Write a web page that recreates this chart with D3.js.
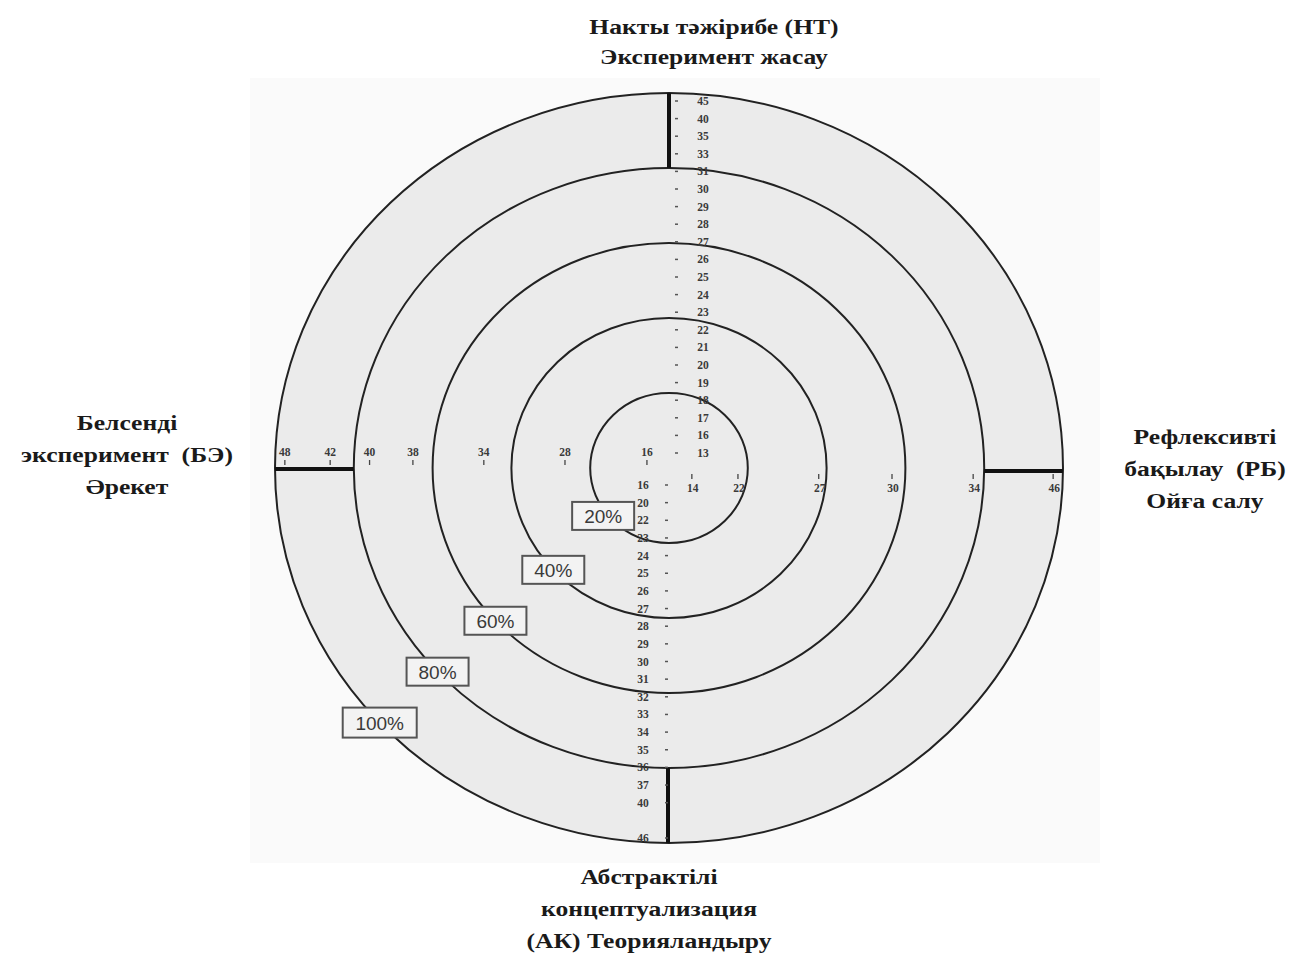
<!DOCTYPE html>
<html>
<head>
<meta charset="utf-8">
<script src="https://cdn.jsdelivr.net/npm/d3@7/dist/d3.min.js"></script>
<style>
  body { margin: 0; background: #fff; }
  .title { font-family: "Liberation Serif", serif; font-weight: bold; font-size: 20px; fill: #1a1a1a; }
  .num { font-family: "Liberation Serif", serif; font-weight: bold; font-size: 11.5px; fill: #3a3a3a; }
  .pct { font-family: "Liberation Sans", Arial, sans-serif; font-size: 19px; fill: #3a3a3a; }
</style>
</head>
<body>
<div id="chart"></div>
<script>
// rings in percent of the outer radius
var rings = [20, 40, 60, 80, 100];

// vertical axis, top half (НТ) - read top to bottom
var topLabels = ["45","40","35","33","31","30","29","28","27","26","25","24","23","22","21","20","19","18","17","16","13"];
// vertical axis, bottom half (АК) - read top to bottom, slot index for each
var bottomLabels = ["16","20","22","23","24","25","26","27","28","29","30","31","32","33","34","35","36","37","40","46"];
var bottomSlots  = [0,1,2,3,4,5,6,7,8,9,10,11,12,13,14,15,16,17,18,20];

// horizontal axis, left half (БЭ) and right half (РБ), with percentile of each score
var leftLabels  = ["48","42","40","38","34","28","16"];
var leftPct     = [97.5, 86, 76, 65, 47, 26.4, 5.6];
var rightLabels = ["14","22","27","30","34","46"];
var rightPct    = [5.8, 17.5, 38, 56.6, 77.2, 97.5];

var width = 1292, height = 957;
var cx = 669, cy = 468;

var svg = d3.select("#chart")
  .append("svg")
  .attr("width", width)
  .attr("height", height);

// radius scales (the scan is slightly wider than tall)
var rx = d3.scaleLinear().domain([0, 100]).range([0, 394]);
var ry = d3.scaleLinear().domain([0, 100]).range([0, 375]);

// faint scan paper behind the target
svg.append("rect")
  .attr("x", 250).attr("y", 78)
  .attr("width", 850).attr("height", 785)
  .attr("fill", "#fafafa");

svg.append("ellipse")
  .attr("cx", cx).attr("cy", cy)
  .attr("rx", rx(100)).attr("ry", ry(100))
  .attr("fill", "#ebebeb");

// rings
svg.selectAll("ellipse.ring")
  .data(rings)
  .enter()
  .append("ellipse")
  .attr("class", "ring")
  .attr("cx", cx).attr("cy", cy)
  .attr("rx", function(d) { return rx(d); })
  .attr("ry", function(d) { return ry(d); })
  .attr("fill", "none")
  .attr("stroke", "#222")
  .attr("stroke-width", 2);

// thick axis pieces between the two outer rings
var g = svg.append("g").attr("stroke", "#111").attr("stroke-width", 4);
g.append("line").attr("x1", cx).attr("x2", cx).attr("y1", cy - ry(100)).attr("y2", cy - ry(80));
g.append("line").attr("x1", cx - 1).attr("x2", cx - 1).attr("y1", cy + ry(80)).attr("y2", cy + ry(100));
g.append("line").attr("y1", cy + 1).attr("y2", cy + 1).attr("x1", cx - rx(100)).attr("x2", cx - rx(80));
g.append("line").attr("y1", cy + 3).attr("y2", cy + 3).attr("x1", cx + rx(80)).attr("x2", cx + rx(100));

// top half numbers
var yTop = d3.scalePoint().domain(topLabels).range([cy - 367, cy - 15]);
var topG = svg.append("g");
topG.selectAll("text")
  .data(topLabels)
  .enter()
  .append("text")
  .attr("class", "num")
  .attr("x", cx + 34)
  .attr("y", function(d) { return yTop(d) + 4; })
  .attr("text-anchor", "middle")
  .text(function(d) { return d; });
topG.selectAll("line")
  .data(topLabels)
  .enter()
  .append("line")
  .attr("x1", cx + 6).attr("x2", cx + 9)
  .attr("y1", function(d) { return yTop(d); })
  .attr("y2", function(d) { return yTop(d); })
  .attr("stroke", "#555").attr("stroke-width", 1.5);

// bottom half numbers
var yBot = d3.scaleLinear().domain([0, 20]).range([cy + 17, cy + 370]);
var botG = svg.append("g");
botG.selectAll("text")
  .data(bottomLabels)
  .enter()
  .append("text")
  .attr("class", "num")
  .attr("x", cx - 26)
  .attr("y", function(d, i) { return yBot(bottomSlots[i]) + 4; })
  .attr("text-anchor", "middle")
  .text(function(d) { return d; });
botG.selectAll("line")
  .data(bottomLabels)
  .enter()
  .append("line")
  .attr("x1", cx - 4).attr("x2", cx - 1)
  .attr("y1", function(d, i) { return yBot(bottomSlots[i]); })
  .attr("y2", function(d, i) { return yBot(bottomSlots[i]); })
  .attr("stroke", "#555").attr("stroke-width", 1.5);

// left half numbers (above the axis)
var leftG = svg.append("g");
leftG.selectAll("text")
  .data(leftLabels)
  .enter()
  .append("text")
  .attr("class", "num")
  .attr("x", function(d, i) { return cx - rx(leftPct[i]); })
  .attr("y", cy - 12)
  .attr("text-anchor", "middle")
  .text(function(d) { return d; });
leftG.selectAll("line")
  .data(leftLabels)
  .enter()
  .append("line")
  .attr("x1", function(d, i) { return cx - rx(leftPct[i]); })
  .attr("x2", function(d, i) { return cx - rx(leftPct[i]); })
  .attr("y1", cy - 8).attr("y2", cy - 3)
  .attr("stroke", "#444").attr("stroke-width", 1.3);

// right half numbers (below the axis)
var rightG = svg.append("g");
rightG.selectAll("text")
  .data(rightLabels)
  .enter()
  .append("text")
  .attr("class", "num")
  .attr("x", function(d, i) { return cx + rx(rightPct[i]) + 1; })
  .attr("y", cy + 24)
  .attr("text-anchor", "middle")
  .text(function(d) { return d; });
rightG.selectAll("line")
  .data(rightLabels)
  .enter()
  .append("line")
  .attr("x1", function(d, i) { return cx + rx(rightPct[i]); })
  .attr("x2", function(d, i) { return cx + rx(rightPct[i]); })
  .attr("y1", cy + 6).attr("y2", cy + 11)
  .attr("stroke", "#444").attr("stroke-width", 1.3);

// percentage boxes sitting on each ring, lower-left
var ang = Math.atan2(0.675, -0.73);
var boxes = svg.selectAll("g.box")
  .data(rings)
  .enter()
  .append("g")
  .attr("class", "box")
  .attr("transform", function(d) {
    var x = cx + rx(d) * Math.cos(ang), y = cy + ry(d) * Math.sin(ang);
    if (d == 20) { x -= 8; y -= 3; }
    return "translate(" + x + "," + y + ")";
  });
boxes.append("rect")
  .attr("x", function(d) { return d == 100 ? -37 : -31; })
  .attr("y", function(d) { return d == 100 ? -15 : -14; })
  .attr("width", function(d) { return d == 100 ? 74 : 62; })
  .attr("height", function(d) { return d == 100 ? 30 : 28; })
  .attr("fill", "#f3f3f3")
  .attr("stroke", "#555")
  .attr("stroke-width", 2);
boxes.append("text")
  .attr("class", "pct")
  .attr("text-anchor", "middle")
  .attr("y", 7)
  .text(function(d) { return d + "%"; });

// pole titles (the scanned type is set wide, so stretch it sideways)
var titles = [
  { x: 714, y: 34, lines: ["Накты тәжірибе (НТ)", "Эксперимент жасау"] },
  { x: 127, y: 430, lines: ["Белсенді", "эксперимент  (БЭ)", "Әрекет"] },
  { x: 1205, y: 444, lines: ["Рефлексивті", "бақылау  (РБ)", "Ойға салу"] },
  { x: 649, y: 884, lines: ["Абстрактілі", "концептуализация", "(АК) Теорияландыру"] }
];
titles.forEach(function(t) {
  var txt = svg.append("text")
    .attr("class", "title")
    .attr("text-anchor", "middle")
    .attr("transform", "translate(" + t.x + "," + t.y + ") scale(1.28,1)")
    .style("white-space", "pre");
  t.lines.forEach(function(l, i) {
    txt.append("tspan")
      .attr("x", 0)
      .attr("dy", i == 0 ? 0 : (t.lines.length == 2 ? 30 : 32))
      .text(l);
  });
});
</script>
</body>
</html>
